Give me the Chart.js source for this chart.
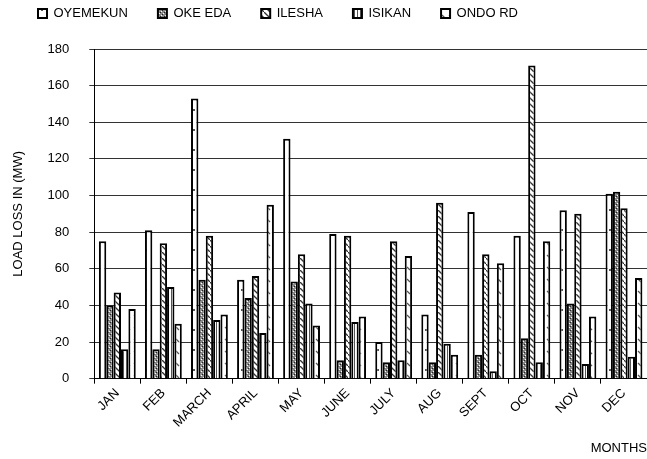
<!DOCTYPE html>
<html>
<head>
<meta charset="utf-8">
<script src="https://cdn.jsdelivr.net/npm/chart.js@4.4.1/dist/chart.umd.min.js"></script>
<style>
    html, body { margin: 0; padding: 0; background: #fff; }
</style>
</head>
<body>
<canvas id="load-chart" width="647" height="459"></canvas>
<script>
// Monthly load loss per feeder (MW)
const months = ['JAN', 'FEB', 'MARCH', 'APRIL', 'MAY', 'JUNE', 'JULY', 'AUG', 'SEPT', 'OCT', 'NOV', 'DEC'];
const oyemekun = [75, 81, 153, 54, 131, 79, 20, 35, 91, 78, 92, 101];
const okeEda = [40, 16, 54, 44, 53, 10, 9, 9, 13, 22, 41, 102];
const ilesha = [47, 74, 78, 56, 68, 78, 75, 96, 68, 171, 90, 93];
const isikan = [16, 50, 32, 25, 41, 31, 10, 19, 4, 9, 8, 12];
const ondoRd = [38, 30, 35, 95, 29, 34, 67, 13, 63, 75, 34, 55];
const yMin = 0;
const yMax = 180;
const yStep = 20;

// Build a small repeating fill pattern (white tile + drawing callback)
function makePattern(w, h, draw) {
    var tile = document.createElement('canvas');
    tile.width = w;
    tile.height = h;
    var ctx = tile.getContext('2d');
    ctx.fillStyle = '#fff';
    ctx.fillRect(0, 0, w, h);
    draw(ctx);
    return ctx.createPattern(tile, 'repeat');
}

const dotsPattern = makePattern(8, 20, function (ctx) {
    ctx.fillStyle = '#555';
    ctx.fillRect(1, 9, 2, 2);
});
const checkPattern = makePattern(4, 4, function (ctx) {
    ctx.fillStyle = '#8a8a8a';
    ctx.fillRect(0, 0, 4, 4);
    ctx.fillStyle = '#222';
    ctx.fillRect(0, 0, 1, 1);
    ctx.fillRect(2, 2, 1, 1);
    ctx.fillStyle = '#fff';
    ctx.fillRect(1, 3, 1, 1);
    ctx.fillRect(3, 1, 1, 1);
});
const hatchPattern = makePattern(6, 6, function (ctx) {
    ctx.strokeStyle = '#333';
    ctx.lineWidth = 1.3;
    ctx.beginPath();
    ctx.moveTo(-1, -1);
    ctx.lineTo(7, 7);
    ctx.stroke();
});
const stripePattern = makePattern(3, 4, function (ctx) {
    ctx.fillStyle = '#555';
    ctx.fillRect(0, 0, 1, 4);
});
const dashPattern = makePattern(7, 12, function (ctx) {
    ctx.strokeStyle = '#555';
    ctx.lineWidth = 1.2;
    ctx.beginPath();
    ctx.moveTo(1, 3);
    ctx.lineTo(4, 6);
    ctx.stroke();
});

// Move the legend to where the original places it
const legendShift = {
    id: 'legendShift',
    afterLayout(chart) {
        chart.legend.left += 8;
        chart.legend.top -= 19;
    }
};

Chart.defaults.font.family = '"Liberation Sans", Arial, sans-serif';
Chart.defaults.font.size = 13;
Chart.defaults.color = '#000';

function barSet(label, data, fill) {
    return {
        label: label,
        data: data,
        backgroundColor: fill,
        borderColor: '#000',
        borderWidth: 2,
        barPercentage: 1.0,
        categoryPercentage: 0.8
    };
}

new Chart(document.getElementById('load-chart').getContext('2d'), {
    type: 'bar',
    data: {
        labels: months,
        datasets: [
            barSet('OYEMEKUN', oyemekun, dotsPattern),
            barSet('OKE EDA', okeEda, checkPattern),
            barSet('ILESHA', ilesha, hatchPattern),
            barSet('ISIKAN', isikan, stripePattern),
            barSet('ONDO RD', ondoRd, dashPattern)
        ]
    },
    options: {
        responsive: false,
        animation: false,
        layout: {
            padding: {top: -4, left: 0, right: 0, bottom: 0}
        },
        plugins: {
            legend: {
                position: 'top',
                align: 'start',
                labels: {
                    boxWidth: 9,
                    boxHeight: 9,
                    padding: 30
                }
            },
            tooltip: {enabled: false}
        },
        scales: {
            x: {
                grid: {
                    drawOnChartArea: false,
                    color: '#000',
                    tickLength: 5
                },
                border: {color: '#000'},
                ticks: {
                    autoSkip: false,
                    minRotation: 45,
                    maxRotation: 45,
                    padding: 2
                },
                title: {
                    display: true,
                    text: 'MONTHS',
                    align: 'end',
                    padding: {top: 8, bottom: 3}
                }
            },
            y: {
                min: yMin,
                max: yMax,
                grid: {
                    color: '#333',
                    tickLength: 5
                },
                border: {color: '#000'},
                ticks: {
                    stepSize: yStep,
                    padding: 20
                },
                title: {
                    display: true,
                    text: 'LOAD LOSS IN (MW)',
                    padding: {top: 11, bottom: 1}
                }
            }
        }
    },
    plugins: [legendShift]
});
</script>
</body>
</html>
